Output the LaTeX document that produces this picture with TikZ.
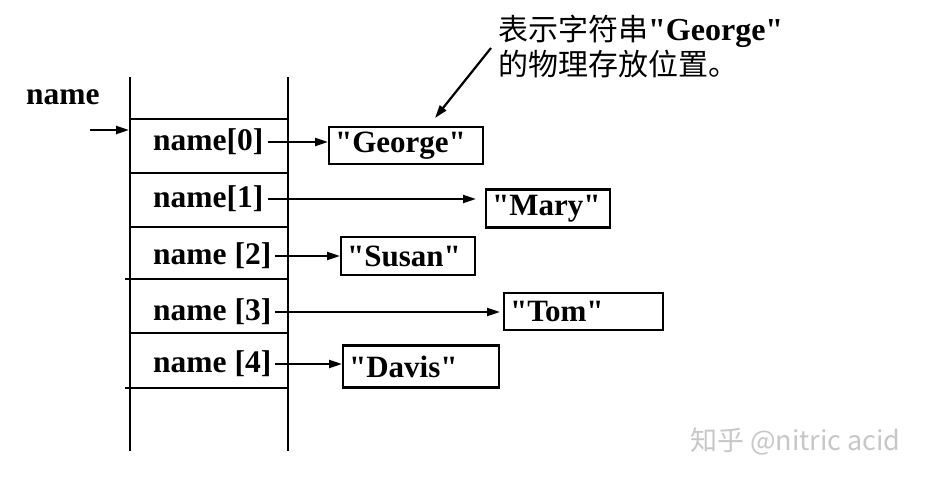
\documentclass[tikz,border=0pt]{standalone}
\usepackage{fontspec}
\setmainfont{Liberation Serif}[Ligatures=TeXOff]
\newfontfamily\cjk{Noto Sans CJK SC}
\usetikzlibrary{arrows.meta}
\begin{document}
\begin{tikzpicture}[x=1pt,y=-1pt,
  ln/.style={line width=2.2pt},
  arr/.style={line width=2.2pt,-{Triangle[length=13pt,width=8pt]}},
  lbl/.style={font=\fontsize{31.5}{33}\selectfont\bfseries, inner sep=4pt, anchor=west},
  strbox/.style={draw,line width=2.2pt,font=\fontsize{31}{33}\selectfont\bfseries, anchor=west, align=left, inner xsep=6pt, inner ysep=4pt},
  note/.style={font=\cjk\fontsize{30}{35}\selectfont, inner sep=0pt, anchor=base west},
  wmark/.style={text=black!22, font=\cjk\fontsize{27}{27}\selectfont, anchor=west, inner sep=0pt}]
\useasboundingbox (0,0) rectangle (931,481);
% stack
\draw[ln] (130,77) -- (130,451);
\draw[ln] (288,77) -- (288,451);
\draw[ln] (130,119) -- (288,119);
\draw[ln] (130,173) -- (288,173);
\draw[ln] (130,227) -- (288,227);
\draw[ln] (125,279) -- (288,279);
\draw[ln] (130,333) -- (288,333);
\draw[ln] (125,388) -- (288,388);
% name pointer
\node[lbl] (nm) at (22,97) {name};
\coordinate (e0) at (90,130);
\coordinate (e1) at (129,130);
\draw[arr] (e0) -- (e1);
% cell labels
\node[lbl] (n0) at (149,142) {name[0]};
\node[lbl] (n1) at (149,199) {name[1]};
\node[lbl] (n2) at (149,256) {name [2]};
\node[lbl] (n3) at (149,312) {name [3]};
\node[lbl] (n4) at (149,364) {name [4]};
% string boxes
\node[strbox, text width=142pt, minimum height=37pt] (g) at (328,145.5) {"George"};
\node[strbox, text width=112pt, minimum height=38pt] (m) at (485,208.5) {"Mary"};
\node[strbox, text width=122pt, minimum height=38pt] (s) at (340,256) {"Susan"};
\node[strbox, text width=147pt, minimum height=37pt] (t) at (503,311.5) {"Tom"};
\node[strbox, text width=144pt, minimum height=42pt] (d) at (342,366.5) {"Davis"};
% pointers
\draw[arr] (n0.east) -- (n0.east -| g.west);
\draw[arr, shorten >=9pt] (n1.east) -- (n1.east -| m.west);
\draw[arr] (n2.east) -- (n2.east -| s.west);
\draw[arr, shorten >=3pt] (n3.east) -- (n3.east -| t.west);
\draw[arr] (n4.east) -- (n4.east -| d.west);
% annotation
\node[note] (note1) at (498,41) {表示字符串{\rmfamily\bfseries\fontsize{32}{35}\selectfont "George"}};
\node[note] (note2) at (498,76) {的物理存放位置。};
\coordinate (a0) at (491,48);
\coordinate (a1) at (435,118);
\draw[arr] (a0) -- (a1);
% watermark
\node[wmark] (wm) at (690,441) {知乎 @nitric acid};
\end{tikzpicture}
\end{document}
